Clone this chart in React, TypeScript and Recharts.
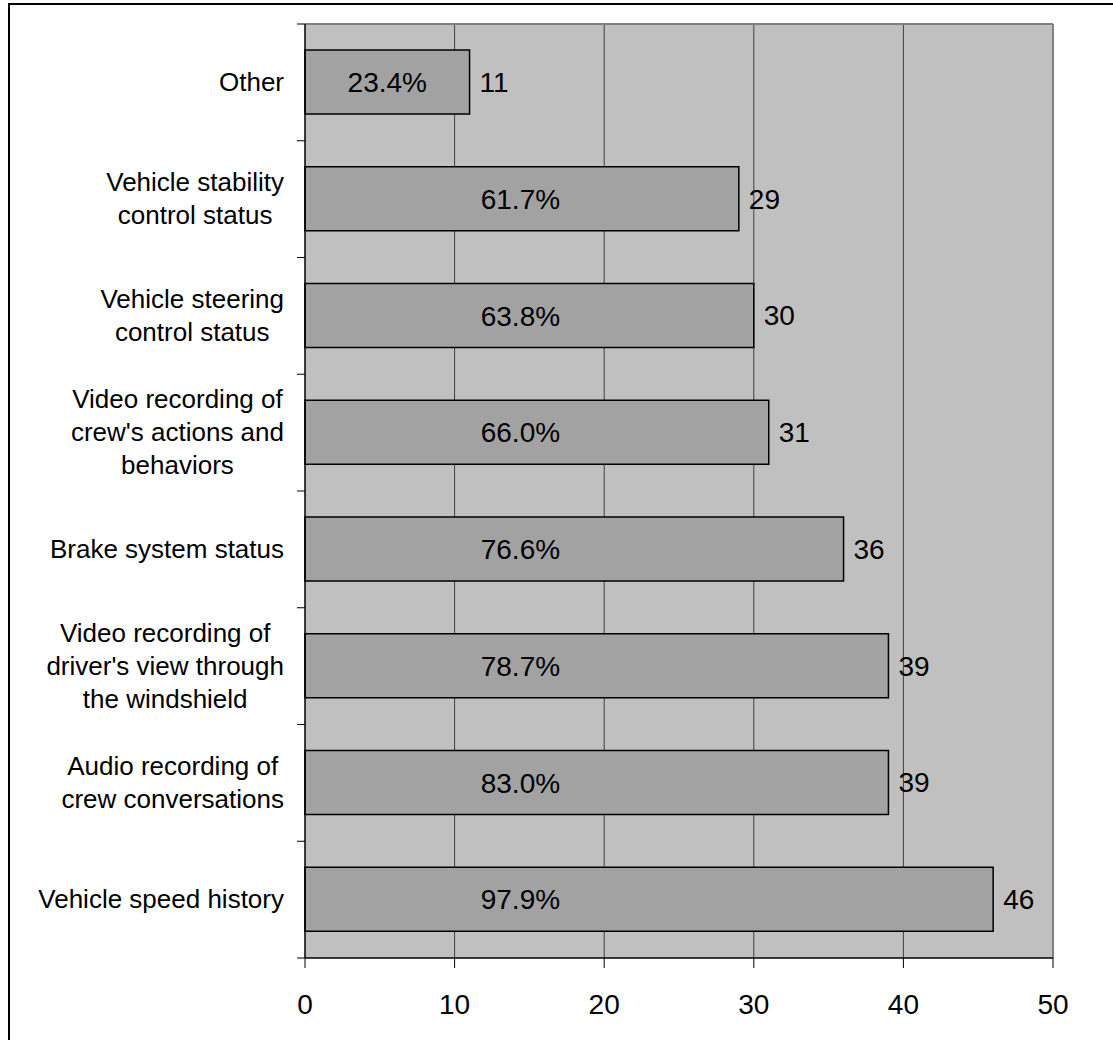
import React from 'react';
import { BarChart, Bar, XAxis, YAxis, CartesianGrid, LabelList } from 'recharts';

const categories = [
  'Other',
  'Vehicle stability\ncontrol status',
  'Vehicle steering\ncontrol status',
  "Video recording of\ncrew's actions and\nbehaviors",
  'Brake system status',
  "Video recording of\ndriver's view through\nthe windshield",
  'Audio recording of\ncrew conversations',
  'Vehicle speed history',
];
const counts = [11, 29, 30, 31, 36, 39, 39, 46];
const percents = [23.4, 61.7, 63.8, 66.0, 76.6, 78.7, 83.0, 97.9];
const xTicks = [0, 10, 20, 30, 40, 50];

const data = categories.map((name, i) => ({ name, count: counts[i], pct: percents[i] }));

const W = 1113;
const H = 1040;
const MARGIN = { top: 24, right: 60, bottom: 22, left: 0 };
const Y_W = 305;
const X_H = 60;
const X_MAX = 50;
const PCT_LABEL_MAX_X = 14.4; // percent labels centred in bar, but never right of this value
const PLOT_TOP = MARGIN.top;
const PLOT_BOTTOM = H - MARGIN.bottom - X_H;
const PLOT_RIGHT = W - MARGIN.right;
const PLOT_W = PLOT_RIGHT - Y_W;
const BAND = (PLOT_BOTTOM - PLOT_TOP) / categories.length;
const FONT = '"Liberation Sans", Arial, Helvetica, sans-serif';

let ctx: CanvasRenderingContext2D | null = null;
function measure(text: string, size: number): number {
  if (!ctx) {
    const c = document.createElement('canvas');
    ctx = c.getContext('2d');
  }
  if (!ctx) return text.length * size * 0.5;
  ctx.font = `${size}px "Liberation Sans", Arial`;
  return ctx.measureText(text).width;
}

const CategoryTick = (props: any) => {
  const { y, payload } = props;
  const value = String(payload.value);
  const lines = value.split('\n');
  const size = 26;
  const lh = 33;
  const maxW = Math.max(...lines.map((l) => measure(l, size)));
  const cx = Y_W - 21 - maxW / 2;
  const isLast = value === categories[categories.length - 1];
  return (
    <g>
      <line x1={Y_W - 8} x2={Y_W} y1={y - BAND / 2} y2={y - BAND / 2} stroke="#000" strokeWidth={1} />
      {isLast && (
        <line x1={Y_W - 8} x2={Y_W} y1={y + BAND / 2} y2={y + BAND / 2} stroke="#000" strokeWidth={1} />
      )}
      <text textAnchor="middle" fontSize={size} fontFamily={FONT} fill="#000">
        {lines.map((l, i) => (
          <tspan key={i} x={cx} y={y + (i - (lines.length - 1) / 2) * lh + 8.5}>
            {l}
          </tspan>
        ))}
      </text>
    </g>
  );
};

const PctLabel = (props: any) => {
  const vb = props.viewBox || {};
  const x = props.x ?? vb.x;
  const y = props.y ?? vb.y;
  const width = props.width ?? vb.width;
  const height = props.height ?? vb.height;
  const value = props.value;
  const cap = Y_W + (PCT_LABEL_MAX_X / X_MAX) * PLOT_W;
  const cx = Math.min(x + width / 2, cap);
  return (
    <text
      x={cx}
      y={y + height / 2}
      dy="0.36em"
      textAnchor="middle"
      fontSize={28}
      fontFamily={FONT}
      fill="#000"
    >
      {`${Number(value).toFixed(1)}%`}
    </text>
  );
};

export default function App() {
  return (
    <div style={{ position: 'absolute', left: 0, top: 0, width: W, height: H, overflow: 'hidden', background: '#fff' }}>
      <div
        style={{
          position: 'absolute',
          left: 8,
          top: 3,
          width: W + 20,
          height: H + 20,
          borderLeft: '2px solid #000',
          borderTop: '2px solid #000',
          boxSizing: 'border-box',
        }}
      />
      <div style={{ position: 'absolute', left: 0, top: 0 }}>
        <BarChart width={W} height={H} data={data} layout="vertical" margin={MARGIN}>
          <CartesianGrid
            fill="#c0c0c0"
            fillOpacity={1}
            horizontal={false}
            stroke="#404040"
            strokeWidth={1}
            verticalPoints={xTicks.slice(1, -1).map((t) => Y_W + (t / X_MAX) * PLOT_W)}
          />
          <CartesianGrid
            stroke="#808080"
            strokeWidth={2}
            horizontalPoints={[PLOT_TOP]}
            verticalPoints={[PLOT_RIGHT]}
          />
          <XAxis
            type="number"
            domain={[0, X_MAX]}
            ticks={xTicks}
            interval={0}
            height={X_H}
            tickSize={10}
            tickMargin={26}
            axisLine={{ stroke: '#000', strokeWidth: 1.5 }}
            tickLine={{ stroke: '#000' }}
            tick={{ fontSize: 28, fill: '#000', fontFamily: FONT }}
          />
          <YAxis
            type="category"
            dataKey="name"
            width={Y_W}
            interval={0}
            tickLine={false}
            axisLine={{ stroke: '#000', strokeWidth: 1.5 }}
            tick={(p: any) => <CategoryTick {...p} />}
          />
          <Bar
            dataKey="count"
            fill="#a2a2a2"
            stroke="#000"
            strokeWidth={1.5}
            barSize={64}
            isAnimationActive={false}
          >
            <LabelList dataKey="pct" content={(p: any) => <PctLabel {...p} />} />
            <LabelList
              dataKey="count"
              position="right"
              offset={10}
              fill="#000"
              fontSize={28}
              fontFamily={FONT}
            />
          </Bar>
        </BarChart>
      </div>
    </div>
  );
}
